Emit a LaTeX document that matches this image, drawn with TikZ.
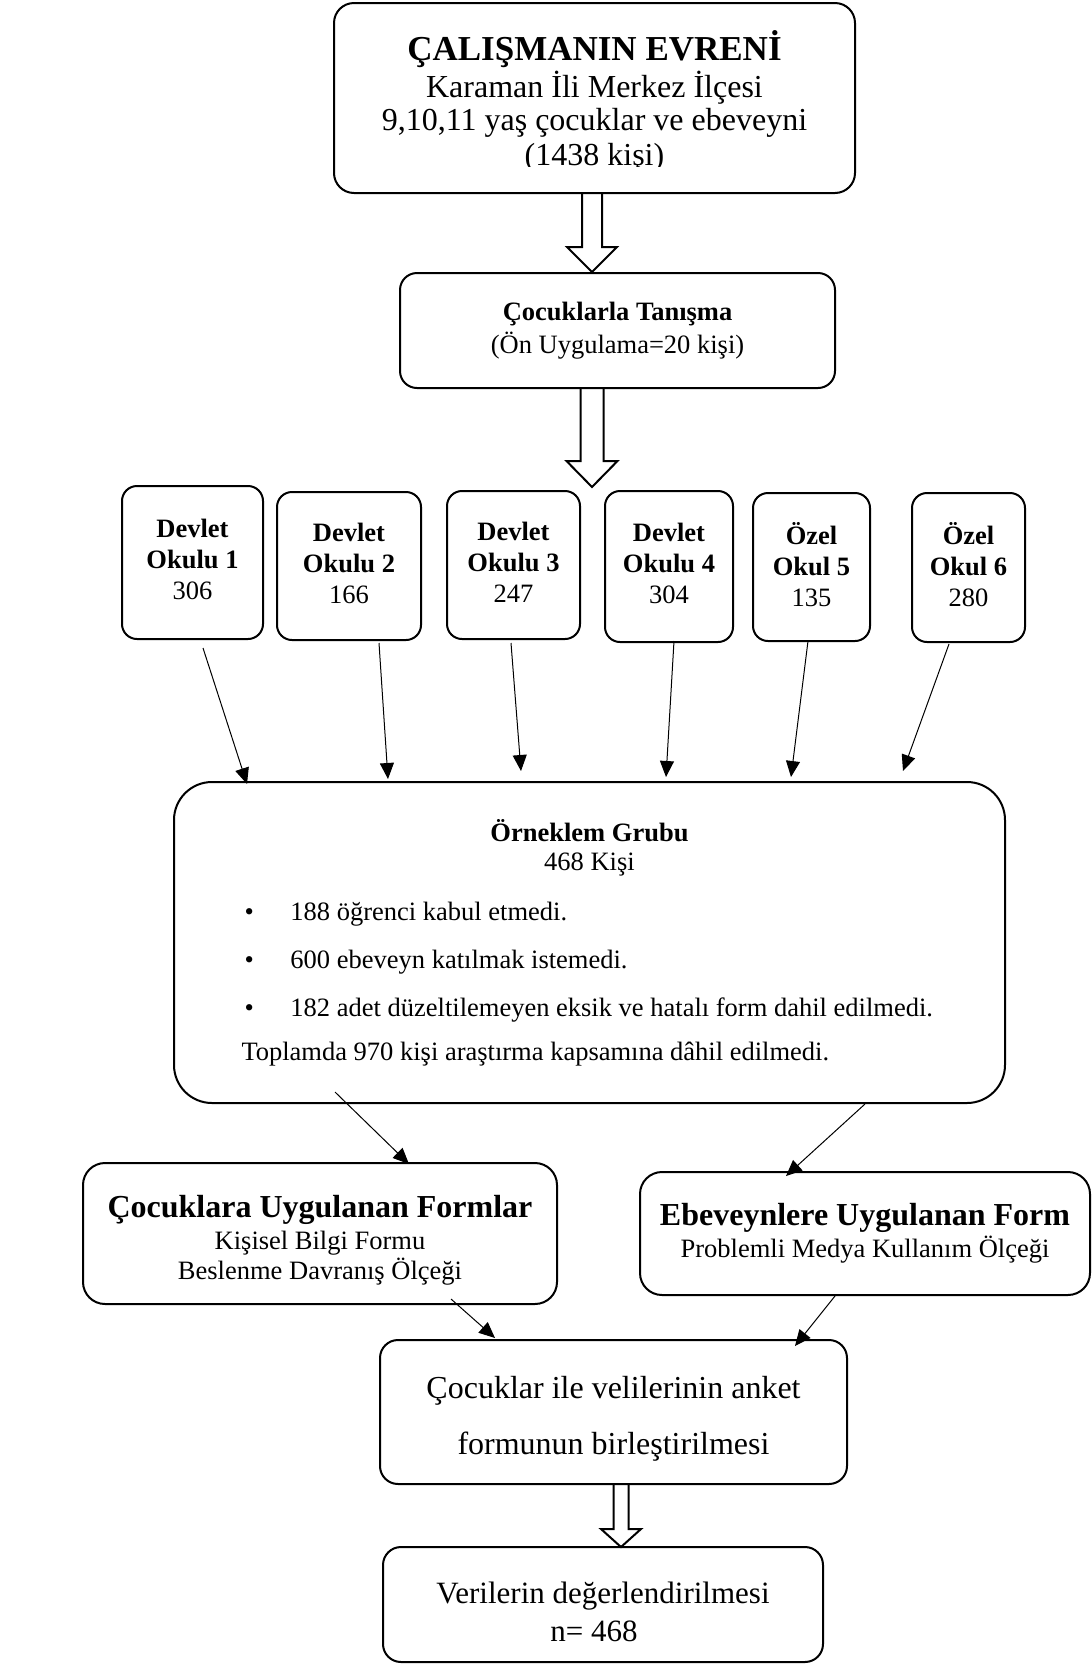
\documentclass[tikz,border=0pt]{standalone}
\usepackage{fontspec}
\setmainfont{Liberation Serif}
\usetikzlibrary{arrows.meta,calc}
\setlength{\parindent}{0pt}

\def\bigtxt{\fontsize{16}{17.5}\selectfont}
\def\smalltxt{\fontsize{13.25}{15.5}\selectfont}
\def\madde{\makebox[24.5pt][l]{\hspace{1.5pt}\textbullet}}
\def\orta#1{\makebox[\linewidth]{#1}}

\begin{document}
\begin{tikzpicture}[
  x=0.5pt, y=-0.5pt,
  box/.style={draw, line width=1pt, rounded corners=#1, align=center, inner sep=0pt},
  box/.default=9pt,
  okul/.style={box=7.5pt, font=\smalltxt},
  flow/.style={-{Triangle[length=8pt,width=7pt]}, line width=0.5pt},
  hollow/.style n args={3}{line width=1pt, to path={
    let \p1=(\tikztostart), \p2=(\tikztotarget) in
    (\x1-#1,\y1) -- (\x1-#1,\y2+#3) -- (\x1-#2,\y2+#3) -- (\x1,\y2)
    -- (\x1+#2,\y2+#3) -- (\x1+#1,\y2+#3) -- (\x1+#1,\y1)}}
]
\useasboundingbox (0,0) rectangle (1092,1666);

% evren
\node[box=10pt, minimum width=260.5pt, minimum height=95pt] (evren) at (594.5,98) {};
\begin{scope}
  \clip (334,3) rectangle (855,166);
  \node[align=center, anchor=north, inner sep=0pt, font=\bigtxt] (evrenyazi) at (594.5,30)
    {{\fontsize{17.5}{17.5}\selectfont\bfseries ÇALIŞMANIN EVRENİ}\\[1pt]
     Karaman İli Merkez İlçesi\\[-1pt]
     9,10,11 yaş çocuklar ve ebeveyni\\
     (1438 kişi)};
\end{scope}

\node[box=8.5pt, minimum width=217.5pt, minimum height=57.5pt,
  font=\fontsize{13.25}{16.5}\selectfont] (tanisma) at (617.5,330.5)
  {\textbf{Çocuklarla Tanışma}\\(Ön Uygulama=20 kişi)};

\draw[hollow={5pt}{12.5pt}{12.5pt}] ($(evren.south)+(-2.5,0)$) to ($(tanisma.north)+(-25.5,0)$);
\coordinate (okullar) at (592,487);
\draw[hollow={5.75pt}{12.75pt}{13pt}] ($(tanisma.south)+(-25.5,0)$) to (okullar);

% okullar
\foreach \i/\cx/\cy/\w/\h/\ust/\adi/\sayi in {
  1/192.5/562.5/70.5/76.5/Devlet/Okulu 1/306,
  2/349/566/72/74/Devlet/Okulu 2/166,
  3/513.5/565/66.5/74/Devlet/Okulu 3/247,
  4/669/566.5/64/75.5/Devlet/Okulu 4/304,
  5/811.5/567/58.5/74/Özel/Okul 5/135,
  6/968.5/567.5/56.5/74.5/Özel/Okul 6/280}
  \node[okul, minimum width=\w pt, minimum height=\h pt] (okul\i) at (\cx,\cy)
    {\textbf{\ust}\\\textbf{\adi}\\\sayi\rule[-3pt]{0pt}{0pt}};

% orneklem
\node[box=19pt, minimum width=415.5pt, minimum height=160.5pt, text width=348pt,
  align=flush left, font=\fontsize{13.25}{14.5}\selectfont] (orneklem) at (589.5,942.5) {
  \orta{\textbf{Örneklem Grubu}}\\
  \orta{468 Kişi}\\[10.5pt]
  \madde 188 öğrenci kabul etmedi.\\[9.5pt]
  \madde 600 ebeveyn katılmak istemedi.\\[9.5pt]
  \madde 182 adet düzeltilemeyen eksik ve hatalı form dahil edilmedi.\\[7.5pt]
  Toplamda 970 kişi araştırma kapsamına dâhil edilmedi.};

\foreach \i/\sx/\sy/\ex/\ey in {1/10.5/8/-342.5/3, 2/30/2/-201.5/-2, 3/-2.5/3/-68.5/-10,
  4/5/-2/76.5/-4, 5/-3.5/-1/201.5/-4, 6/-19.5/1/313.5/-10}
  \draw[flow] ($(okul\i.south)+(\sx,\sy)$) -- ($(orneklem.north)+(\ex,\ey)$);

% formlar
\node[box=11pt, minimum width=237pt, minimum height=70.5pt,
  font=\fontsize{13.25}{15}\selectfont] (cform) at (320,1233.5)
  {{\bigtxt\bfseries\rule{0pt}{18pt}Çocuklara Uygulanan Formlar}\\[1pt]Kişisel Bilgi Formu\\Beslenme Davranış Ölçeği};
\node[box=11pt, minimum width=225pt, minimum height=61.5pt,
  font=\fontsize{13.25}{16}\selectfont] (eform) at (865,1233.5)
  {{\bigtxt\bfseries Ebeveynlere Uygulanan Form}\\Problemli Medya Kullanım Ölçeği};

\draw[flow] ($(orneklem.south)+(-254.5,-12)$) -- ($(cform.north)+(89,2)$);
\draw[flow] ($(orneklem.south)+(275.5,0)$) -- ($(eform.north)+(-79,5)$);

\node[box, minimum width=233.5pt, minimum height=72pt,
  font=\fontsize{16}{28}\selectfont] (birles) at (613.5,1412)
  {\rule{0pt}{18pt}Çocuklar ile velilerinin anket\\formunun birleştirilmesi};

\draw[flow] ($(cform.south)+(131,-6)$) -- ($(birles.north)+(-118.5,-1)$);
\draw[flow] ($(eform.south)+(-30,0)$) -- ($(birles.north)+(181.5,7)$);

\node[box, minimum width=220pt, minimum height=57.5pt, align=left,
  font=\fontsize{15.5}{19}\selectfont] (veri) at (603,1604.5)
  {\rule{0pt}{18.5pt}Verilerin değerlendirilmesi\\\hspace*{57pt}n= 468};

\draw[hollow={3.75pt}{10pt}{9pt}] ($(birles.south)+(7.5,0)$) to ($(veri.north)+(18,1)$);
\end{tikzpicture}
\end{document}
